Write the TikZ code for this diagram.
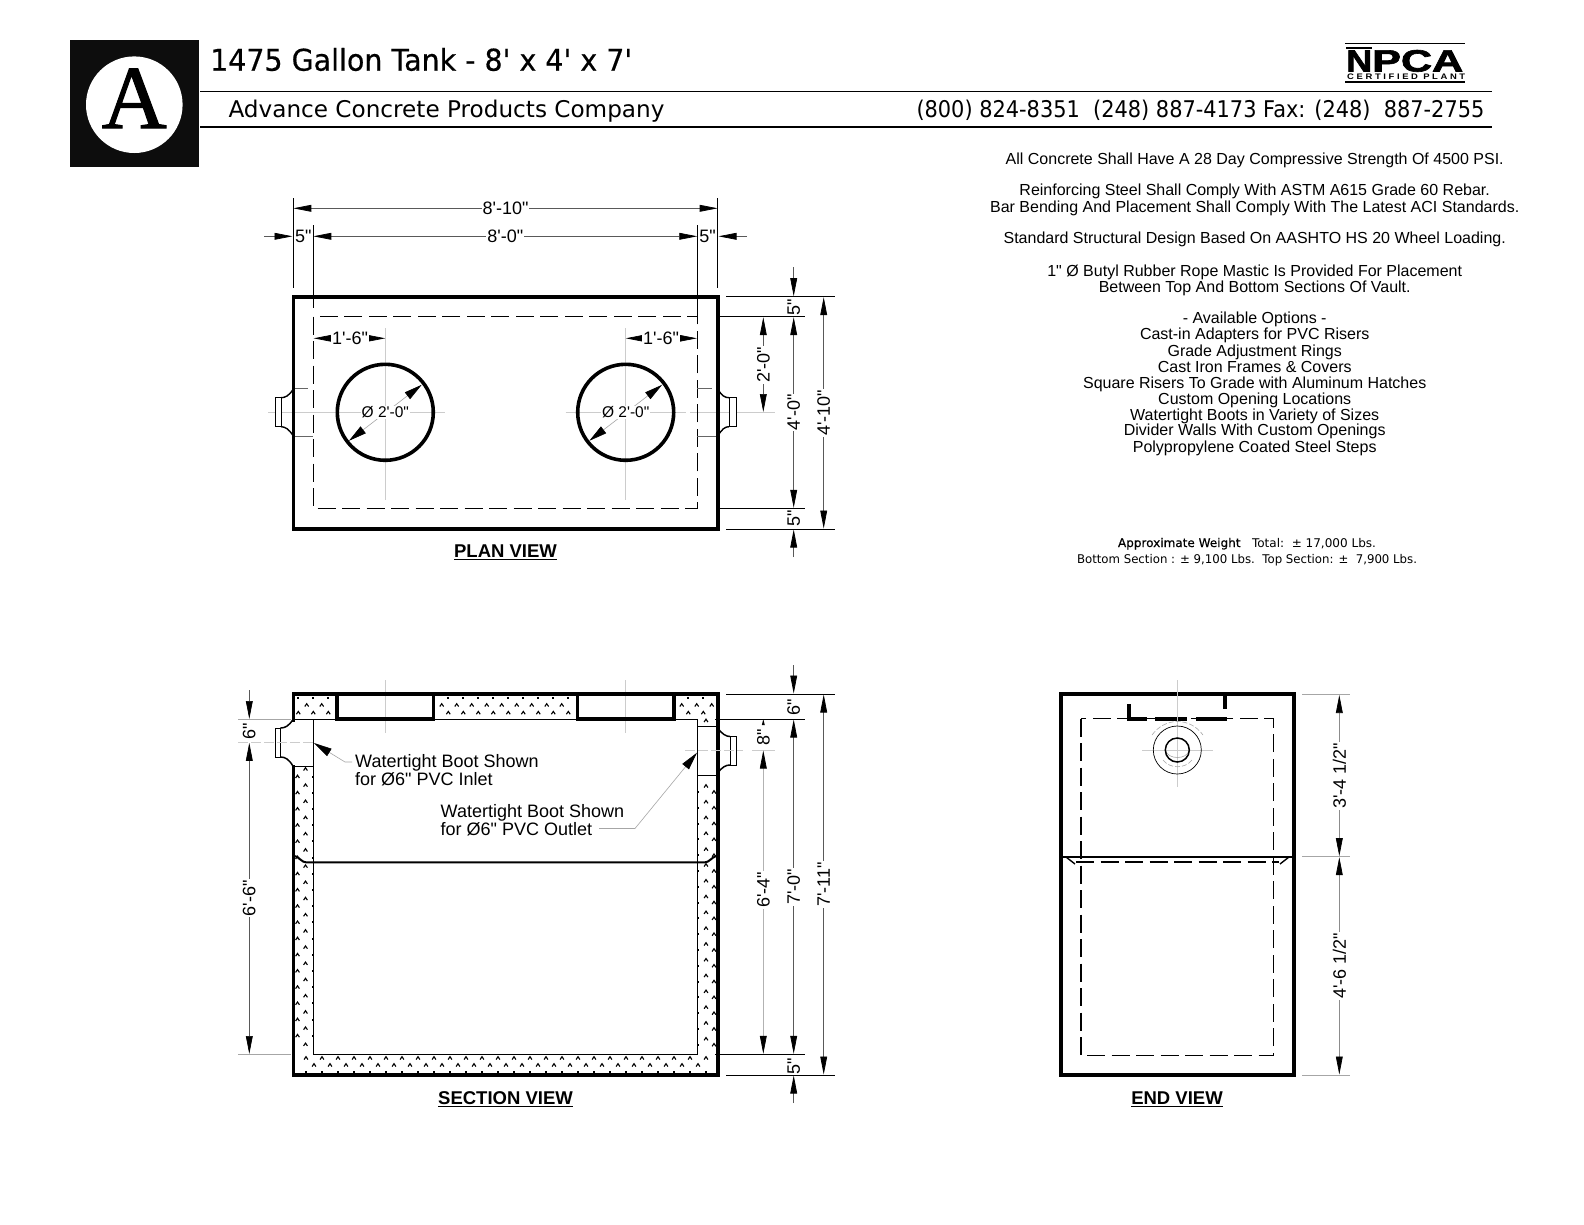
\documentclass[tikz,border=0pt]{standalone}
\usepackage{fontspec}
\usepackage{graphicx}
\usetikzlibrary{arrows.meta}
\newfontfamily\lsans{Liberation Sans}
\newfontfamily\lserif[FakeBold=1.2]{Liberation Serif}
\newfontfamily\hdrfont{DejaVu Sans}
\newfontfamily\hdrheavy[FakeBold=0.5]{DejaVu Sans}
\newfontfamily\npcafont[FakeBold=2]{Liberation Sans Bold}
\newcommand\fsz[1]{\fontsize{#1}{#1}\selectfont}
\newcommand\car[2]{\draw[line width=1.1pt] (#1-1.9,#2+1.5)--(#1,#2-1.3)--(#1+1.9,#2+1.5);}
\newcommand\dotm[2]{\fill (#1-1,#2-1) rectangle (#1+1,#2+1);}
\tikzset{
 x=1pt,y=-1pt,
 tipa/.tip={Triangle[length=18pt,width=6.8pt,color=black,fill=black]},
 tipb/.tip={Triangle[length=18pt,width=8.5pt,color=black,fill=black]},
 dimline/.style={draw=black!65,line width=.7pt},
 dimboth/.style={dimline,{tipa}-{tipa}},
 dimto/.style={dimline,-{tipa}},
 extl/.style={draw=black,line width=.8pt},
 extg/.style={draw=black!35,line width=.6pt},
 cenl/.style={draw=black!20,line width=.6pt},
 wall/.style={draw=black,line width=3.6pt},
 hidden/.style={draw=black,line width=1.3pt,dash pattern=on 18pt off 6.5pt},
 thinb/.style={draw=black,line width=.9pt},
 dimtext/.style={font=\lsans\fsz{18},fill=white,inner sep=1pt},
 nofilltext/.style={font=\lsans\fsz{18},inner sep=0pt},
 viewtitle/.style={font=\lsans\bfseries\fsz{18.5},inner sep=0pt},
 note/.style={font=\lsans\fsz{16},inner sep=0pt,anchor=base},
 labeltext/.style={font=\lsans\fsz{18},inner sep=0pt,anchor=base west},
 hdr/.style={inner sep=0pt,anchor=base west},
}
\begin{document}
\begin{tikzpicture}
\useasboundingbox (0,0) rectangle (1584,1224);
\fill[white] (0,0) rectangle (1584,1224);
% ---------- header
\fill[black!95] (70,40) rectangle (199,167);
\fill[white] (134.3,104.7) circle[radius=48.3];
\node[inner sep=0pt,anchor=base] (logoA) at (134.3,128) {\lserif\fsz{90}A};
\node[hdr] (title) at (210,70.7) {\resizebox{422pt}{\height}{\hdrheavy\fsz{30}1475 Gallon Tank - 8' x 4' x 7'}};
\node[hdr] (company) at (228.3,117.3) {\resizebox{436pt}{\height}{\hdrfont\fsz{23}Advance Concrete Products Company}};
\node[hdr] (phone) at (916.3,117.3) {\resizebox{568pt}{\height}{\hdrfont\fsz{23}(800) 824-8351\ \ (248) 887-4173 Fax: (248)\ \ 887-2755}};
\draw[line width=1.4pt] (200,91.3) -- (1492,91.3);
\draw[line width=1.4pt] (200,127) -- (1492,127);
% NPCA
\draw[line width=1.1pt] (1345,43.3) -- (1465,43.3);
\draw[line width=1.1pt] (1345,82) -- (1465,82);
\fill[black] (1346,47.2) rectangle (1372,49.4);
\node[inner sep=0pt,anchor=base west] (npcaN) at (1346,71.5) {\resizebox{26pt}{21pt}{\npcafont N}};
\node[inner sep=0pt,anchor=base west] (npcaPCA) at (1372,71.5) {\resizebox{91pt}{21.5pt}{\npcafont PCA}};
\node[inner sep=0pt,anchor=base west] (certified) at (1347,79.5) {\resizebox{118pt}{5.6pt}{\lsans\bfseries\fsz{8}C E R T I F I E D\ \ P L A N T}};
% ---------- notes
\node[note] (n1) at (1254.7,164.1) {All Concrete Shall Have A 28 Day Compressive Strength Of 4500 PSI.};
\node[note] (n2) at (1254.7,195.5) {Reinforcing Steel Shall Comply With ASTM A615 Grade 60 Rebar.};
\node[note] (n3) at (1254.7,212) {Bar Bending And Placement Shall Comply With The Latest ACI Standards.};
\node[note] (n4) at (1254.7,243.9) {Standard Structural Design Based On AASHTO HS 20 Wheel Loading.};
\node[note] (n5) at (1254.7,276.2) {1" Ø Butyl Rubber Rope Mastic Is Provided For Placement};
\node[note] (n6) at (1254.7,292.4) {Between Top And Bottom Sections Of Vault.};
\node[note] (n7) at (1254.7,323.7) {- Available Options -};
\node[note] (n8) at (1254.7,339.9) {Cast-in Adapters for PVC Risers};
\node[note] (n9) at (1254.7,356) {Grade Adjustment Rings};
\node[note] (n10) at (1254.7,372.2) {Cast Iron Frames \& Covers};
\node[note] (n11) at (1254.7,388.4) {Square Risers To Grade with Aluminum Hatches};
\node[note] (n12) at (1254.7,404.5) {Custom Opening Locations};
\node[note] (n13) at (1254.7,420.7) {Watertight Boots in Variety of Sizes};
\node[note] (n14) at (1254.7,435.8) {Divider Walls With Custom Openings};
\node[note] (n15) at (1254.7,452) {Polypropylene Coated Steel Steps};
\node[inner sep=0pt,anchor=base] (w1) at (1247,547) {\resizebox{258pt}{\height}{\hdrfont\fsz{12}{\hdrheavy Approximate Weight}\ \ \ Total:\ \ ± 17,000 Lbs.}};
\node[inner sep=0pt,anchor=base] (w2) at (1247,563) {\resizebox{340pt}{\height}{\hdrfont\fsz{12}Bottom Section : ± 9,100 Lbs.\ \ Top Section: ±\ \ 7,900 Lbs.}};
% ---------- PLAN VIEW
\foreach \cx in {385.3,625.7}{
 \draw[cenl] (\cx,328) -- (\cx,500);
 \draw[cenl] (\cx-60,412.3) -- (\cx+60,412.3);
}
\draw[cenl] (268,412.3) -- (325,412.3);
\draw[cenl] (690,412.3) -- (775,412.3);
\draw[wall] (293.3,296.7) rectangle (717.7,529);
\draw[hidden] (313.3,316.7) rectangle (697.3,508.3);
\draw[wall] (385.3,412.3) circle[radius=48];
\draw[wall] (625.7,412.3) circle[radius=48];
% plan boots
\draw[thinb,fill=white] (275,397.7) rectangle (281,426.7);
\draw[line width=1.4pt] (293.3,389) .. controls (289,396) and (285,397.7) .. (281,397.7);
\draw[line width=1.4pt] (293.3,436) .. controls (289,429) and (285,426.7) .. (281,426.7);
\draw[thinb,fill=white] (729,397.7) rectangle (736,426.7);
\draw[line width=1.4pt] (717.7,389) .. controls (722,396) and (725,397.7) .. (729,397.7);
\draw[line width=1.4pt] (717.7,436) .. controls (722,429) and (725,426.7) .. (729,426.7);
\draw[thinb,draw=black!60] (295,388.3) -- (308,388.3);
\draw[thinb,draw=black!60] (295,436.7) -- (313,436.7);
\draw[thinb,draw=black!60] (697,388.3) -- (712,388.3);
\draw[thinb,draw=black!60] (697,436.7) -- (716,436.7);
% plan dims top
\draw[extl] (293.3,198) -- (293.3,288);
\draw[extl] (717.7,198) -- (717.7,288);
\draw[extl] (313.3,225) -- (313.3,308);
\draw[extl] (697.3,225) -- (697.3,316);
\draw[dimboth] (293.3,208.3) -- node[dimtext] (d810) {8'-10"} (717.7,208.3);
\draw[dimboth] (313.3,236.3) -- node[dimtext] (d80) {8'-0"} (697.3,236.3);
\draw[dimto] (264,236.3) -- (292.5,236.3);
\draw[dimto] (747,236.3) -- (718.5,236.3);
\node[nofilltext] (d5l) at (303.3,236.3) {5"};
\node[nofilltext] (d5r) at (707.5,236.3) {5"};
% 1'-6"
\draw[dimto] (350,338.3) -- (313.6,338.3);
\draw[dimto] (350,338.3) -- (385.3,338.3);
\draw[dimto] (661,338.3) -- (625.7,338.3);
\draw[dimto] (661,338.3) -- (697,338.3);
\node[dimtext] (d16l) at (350,338.3) {1'-6"};
\node[dimtext] (d16r) at (661,338.3) {1'-6"};
% diameters
\foreach \cx/\nm in {385.3/a,625.7/b}{
 \draw[extg,{tipb}-{tipb}] (\cx+36.4,412.3-27.5) -- (\cx-36.4,412.3+28.5);
 \node[font=\lsans\fsz{15.5},fill=white,inner sep=1pt] (dia\nm) at (\cx,412.3) {Ø 2'-0"};
}
% plan dims right
\draw[extl] (726,296.7) -- (835,296.7);
\draw[extl] (720,316.7) -- (805,316.7);
\draw[extl] (720,508.3) -- (805,508.3);
\draw[extl] (726,529) -- (835,529);
\draw[dimto] (793.7,267) -- (793.7,296.2);
\draw[dimto] (793.7,557) -- (793.7,529.5);
\node[nofilltext,rotate=90] (p5a) at (793.7,307) {5"};
\node[nofilltext,rotate=90] (p5b) at (793.7,518.5) {5"};
\draw[dimboth] (793.7,317.2) -- node[dimtext,rotate=90] (p40) {4'-0"} (793.7,507.8);
\draw[dimboth] (763.3,317.2) -- node[dimtext,rotate=90] (p20) {2'-0"} (763.3,412);
\draw[dimboth] (823.7,297.2) -- node[dimtext,rotate=90] (p410) {4'-10"} (823.7,528.5);
\node[viewtitle] (planv) at (505.5,552.6) {\underline{PLAN VIEW}};
% ---------- SECTION VIEW
\foreach \cx in {385.3,625.7}{\draw[cenl] (\cx,680) -- (\cx,733);}
% hatch: top band
\foreach \i in {0,...,28}{
 \pgfmathsetmacro\xa{298.3+15*\i}
 \pgfmathsetmacro\xb{306.7+15*\i}
 \pgfmathparse{(\xa<331||(\xa>438&&\xa<572)||(\xa>679&&\xa<713))?1:0}
 \ifnum\pgfmathresult=1 \dotm{\xa}{698}\car{\xa}{712.7}\fi
 \pgfmathparse{(\xb<331||(\xb>438&&\xb<572)||(\xb>679&&\xb<713))?1:0}
 \ifnum\pgfmathresult=1 \car{\xb}{705}\fi
}
% hatch: left and right walls
\foreach \i in {0,...,17}{
 \pgfmathsetmacro\ya{769+16.2*\i}
 \pgfmathsetmacro\yb{776.5+16.2*\i}
 \car{305.5}{\ya}
 \pgfmathparse{\yb<1050?1:0}
 \ifnum\pgfmathresult=1
  \car{297.5}{\yb}\dotm{313}{\yb}
 \fi
}
\foreach \i in {0,...,16}{
 \pgfmathsetmacro\ya{786+15.8*\i}
 \pgfmathsetmacro\yb{792+15.8*\i}
 \car{706}{\ya}
 \pgfmathparse{\yb<1050?1:0}
 \ifnum\pgfmathresult=1
  \dotm{698}{\yb}\car{714}{\yb}
 \fi
}
\car{706}{720.5}
% hatch: bottom band
\foreach \i in {0,...,25}{
 \pgfmathsetmacro\xa{306+16*\i}
 \car{\xa}{1058}\dotm{\xa}{1071.5}
 \pgfmathsetmacro\xb{314+16*\i}
 \pgfmathparse{\xb<712?1:0}
 \ifnum\pgfmathresult=1 \car{\xb}{1065}\fi
}
% section outline
\draw[wall,line cap=rect] (293.3,720) -- (293.3,694) -- (717.7,694) -- (717.7,1075) -- (293.3,1075) -- (293.3,766.7);
\draw[thinb] (313.3,719) -- (313.3,1054.3) -- (697.3,1054.3) -- (697.3,719);
\draw[thinb] (293.3,719) -- (336.7,719);
\draw[thinb] (433.3,719) -- (577.5,719);
\draw[thinb] (674,719) -- (697.3,719);
\draw[thinb] (293.3,766.7) -- (313.3,766.7);
\draw[thinb] (697.3,726.7) -- (717.7,726.7);
\draw[thinb] (697.3,775) -- (717.7,775);
\draw[wall] (336.7,694) rectangle (433.3,719);
\draw[wall] (577.5,694) rectangle (674,719);
% section boots
\draw[thinb,fill=white] (275,728) rectangle (280.5,757);
\draw[line width=1.5pt] (293.3,719) .. controls (289,726) and (285,728) .. (280.5,728);
\draw[line width=1.5pt] (293.3,766.7) .. controls (289,759) and (285,757) .. (280.5,757);
\draw[thinb,fill=white] (730,736.5) rectangle (736,765);
\draw[line width=1.5pt] (717.7,728) .. controls (722,734) and (726,736.5) .. (730,736.5);
\draw[line width=1.5pt] (717.7,773) .. controls (722,767) and (726,765) .. (730,765);
\draw[cenl,dash pattern=on 10pt off 3pt] (238,742.3) -- (313,742.3);
\draw[cenl,dash pattern=on 10pt off 3pt] (685,750) -- (743,750);
\draw[cenl] (752,750) -- (775,750);
% joint
\draw[line width=2pt] (295,856) .. controls (300,858) and (302,862.3) .. (306,862.3) -- (705,862.3) .. controls (709,862.3) and (711,858) .. (716,856);
% section dims left
\draw[extg] (238,719) -- (291,719);
\draw[extg] (238,1054.3) -- (291,1054.3);
\draw[dimto] (249.3,690) -- (249.3,719);
\node[nofilltext,rotate=90] (s6l) at (249.3,731) {6"};
\draw[dimboth] (249.3,742.8) -- node[dimtext,rotate=90] (s66) {6'-6"} (249.3,1054);
% section dims right
\draw[extl] (726,694) -- (835,694);
\draw[extl] (715,719) -- (805,719);
\draw[extl] (715,1054.3) -- (805,1054.3);
\draw[extl] (726,1075) -- (835,1075);
\draw[dimto] (793.7,665) -- (793.7,693.5);
\draw[dimto] (793.7,1103) -- (793.7,1075.5);
\node[nofilltext,rotate=90] (s6r) at (793.7,707) {6"};
\node[nofilltext,rotate=90] (s5r) at (793.7,1066) {5"};
\draw[dimboth] (793.7,719.5) -- node[dimtext,rotate=90] (s70) {7'-0"} (793.7,1053.8);
\draw[dimboth] (823.7,694.5) -- node[dimtext,rotate=90] (s711) {7'-11"} (823.7,1074.5);
\draw[dimboth,draw=black!30] (763.3,750.5) -- node[dimtext,rotate=90,pos=.46] (s64) {6'-4"} (763.3,1053.8);
\fill[black] (763.3,719) -- (761.8,725) -- (764.8,725) -- cycle;
\node[nofilltext,rotate=90] (s8) at (763.3,737) {8"};
% callouts
\node[labeltext] (lb1a) at (355,767) {Watertight Boot Shown};
\node[labeltext] (lb1b) at (355,785) {for Ø6" PVC Inlet};
\node[labeltext] (lb2a) at (440.5,817.5) {Watertight Boot Shown};
\node[labeltext] (lb2b) at (440.5,835.5) {for Ø6" PVC Outlet};
\coordinate (tip1) at (314,743);
\coordinate (tip2) at (697,752.7);
\coordinate (lead1) at (345,762);
\coordinate (lead2) at (635,828.5);
\draw[extg,-{tipb}] (352,762) -- (lead1) -- (tip1);
\draw[extg,-{tipb}] (599,828.5) -- (lead2) -- (tip2);
\node[viewtitle] (sectv) at (505.5,1099) {\underline{SECTION VIEW}};
% ---------- END VIEW
\draw[wall] (1061,694) rectangle (1294,1075);
\draw[hidden] (1081,718.7) rectangle (1273.3,1055.7);
\draw[line width=1.6pt] (1061,856.7) -- (1294,856.7);
\draw[draw=white,line width=3pt] (1083,862.3) -- (1271,862.3);
\draw[draw=black,line width=1.8pt,dash pattern=on 18pt off 6.5pt] (1076,862.3) -- (1279,862.3);
\draw[line width=1.4pt] (1066,857) -- (1075,864);
\draw[line width=1.4pt] (1289,857) -- (1280,864);
% thick step marks
\draw[line width=4pt] (1129,704) -- (1129,720.5);
\draw[line width=4pt] (1225.3,694) -- (1225.3,709);
\draw[line width=4pt] (1127,718.7) -- (1147,718.7);
\draw[line width=4pt] (1155,718.7) -- (1187,718.7);
\draw[line width=4pt] (1196,718.7) -- (1227,718.7);
% pipe
\draw[cenl] (1177.3,680) -- (1177.3,787);
\draw[cenl] (1142,750) -- (1213,750);
\draw[extg,dash pattern=on 5pt off 2pt] (1152,735) .. controls (1165,717) and (1190,717) .. (1203,735);
\draw[extg,dash pattern=on 5pt off 2pt] (1163,760) .. controls (1170,769) and (1185,769) .. (1192,760);
\draw[extg] (1165.5,750) .. controls (1167,760) and (1188,760) .. (1189,750);
\draw[line width=.7pt] (1177.3,750) circle[radius=24];
\draw[line width=1.5pt] (1177.3,750) circle[radius=12];
% end dims
\draw[extg] (1302,694) -- (1350,694);
\draw[extg] (1302,856.7) -- (1350,856.7);
\draw[extg] (1302,1075) -- (1350,1075);
\draw[dimboth,draw=black!45] (1339.3,695) -- node[dimtext,rotate=90] (e34) {3'-4 1/2"} (1339.3,856.2);
\draw[dimboth,draw=black!45] (1339.3,857.2) -- node[dimtext,rotate=90] (e46) {4'-6 1/2"} (1339.3,1074.5);
\node[viewtitle] (endv) at (1177,1099) {\underline{END VIEW}};
\end{tikzpicture}
\end{document}
